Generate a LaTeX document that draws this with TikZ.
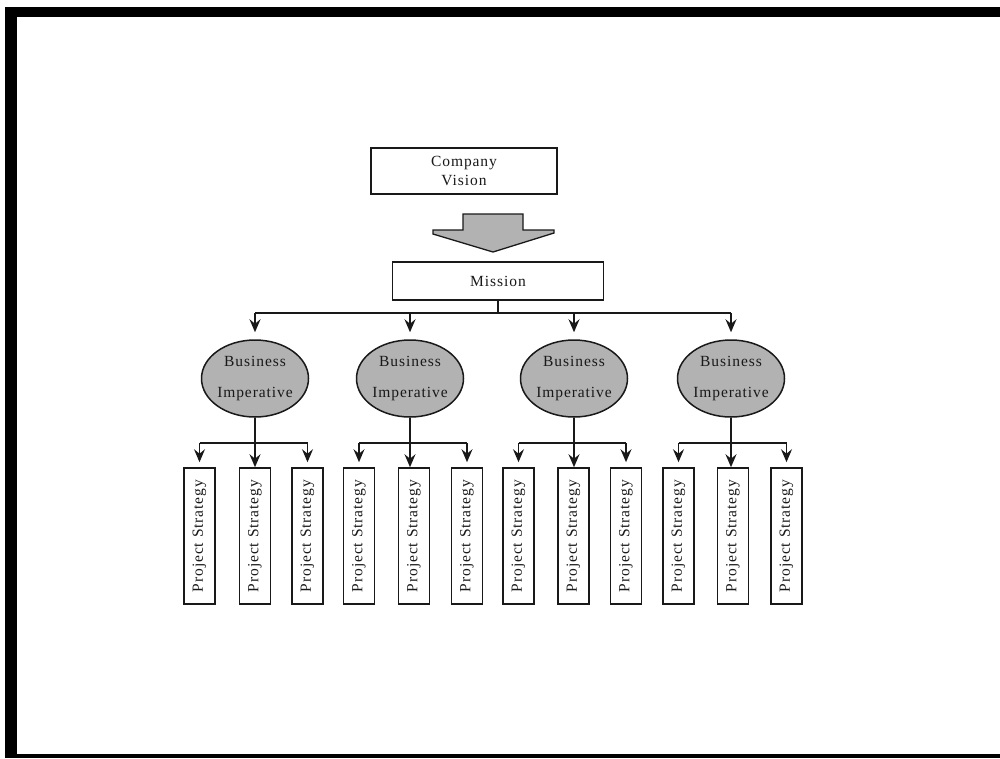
\documentclass[tikz,border=0pt]{standalone}
\usepackage{fontspec}
\setmainfont{Liberation Serif}[LetterSpace=6]
\usetikzlibrary{arrows.meta,shapes.geometric}
\definecolor{fillgray}{RGB}{178,178,178}
\definecolor{inkgray}{RGB}{25,25,25}
\begin{document}
\begin{tikzpicture}[x=1pt,y=-1pt,
  txt/.style={font=\fontsize{15.5}{18.5}\selectfont,text=inkgray},
  rectbox/.style={txt,draw=inkgray,line width=1.6pt,fill=white,inner sep=0pt,align=center},
  bizell/.style={txt,ellipse,draw=inkgray,line width=1.5pt,fill=fillgray,inner sep=0pt,
    minimum width=107pt,minimum height=77pt,align=center},
  psbox/.style={rectbox,minimum width=31pt,minimum height=136pt},
  ln/.style={draw=inkgray,line width=1.6pt},
  arr/.style={ln,-{Stealth[length=13pt,width=11pt,inset=4.5pt]}}
]
\useasboundingbox (0,0) rectangle (1000,758);
\fill[black] (5,7) rectangle (1000,758);
\fill[white] (17,17) rectangle (1000,754);

\node[rectbox,minimum width=186pt,minimum height=46pt] (vision) at (464,171) {Company\\Vision};
\fill[fillgray,draw=inkgray,line width=1.3pt]
  (463,214) -- (523,214) -- (523,230) -- (554,230) -- (554,233) -- (493,252)
  -- (433,234) -- (433,230) -- (463,230) -- cycle;
\node[rectbox,minimum width=211pt,minimum height=38pt] (mission) at (498,281) {Mission};

\coordinate (topbus) at (0,313);

\foreach \i/\cx/\a/\b/\c in {1/255/199.5/255/307.5, 2/410/359/414/467, 3/574/518.5/573.5/626, 4/731/678.5/733/786.5} {
  \node[bizell] (bi\i) at (\cx,378.5) {Business\\[12pt]Imperative};
  \node[psbox] (psa\i) at (\a,536) {\rotatebox{90}{Project Strategy}};
  \node[psbox] (psb\i) at (\b,536) {\rotatebox{90}{Project Strategy}};
  \node[psbox] (psc\i) at (\c,536) {\rotatebox{90}{Project Strategy}};
  \coordinate (bus\i) at (\cx,443);
  \draw[arr] (bi\i.north |- topbus) -- ([yshift=7pt]bi\i.north);
  \draw[ln] (bus\i -| psa\i.north) -- (bus\i -| psc\i.north);
  \draw[arr] (bi\i.south) -- (bi\i.south |- psb\i.north);
  \draw[arr] (bus\i -| psa\i.north) -- ([yshift=5pt]psa\i.north);
  \draw[arr] (bus\i -| psc\i.north) -- ([yshift=5pt]psc\i.north);
}
\draw[ln] (mission.south) -- (mission.south |- topbus);
\draw[ln] (bi1.north |- topbus) -- (bi4.north |- topbus);
\end{tikzpicture}
\end{document}
